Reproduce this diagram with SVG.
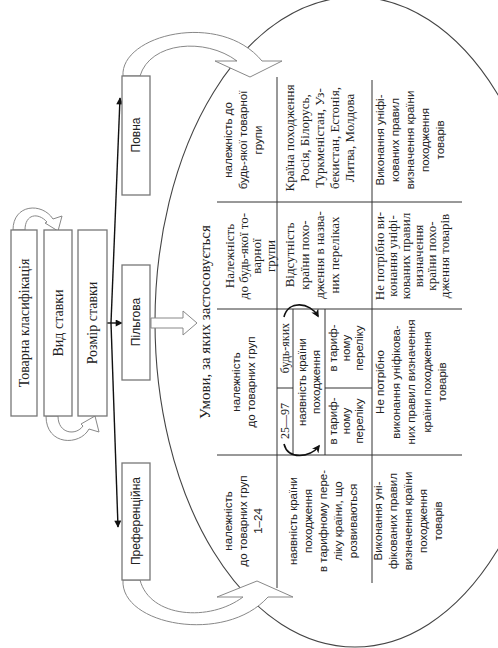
<svg xmlns="http://www.w3.org/2000/svg" width="498" height="648" viewBox="0 0 498 648">
<style>
.bg{fill:#fff}
.box{fill:#fff;stroke:#777;stroke-width:1.3}
.hollow{fill:#fff;stroke:#888;stroke-width:1}
.ell{fill:none;stroke:#444;stroke-width:1.1}
.grid{stroke:#333;stroke-width:1;fill:none}
.blk{stroke:#111;stroke-width:1.4;fill:none}
.hook{stroke:#111;stroke-width:1.6;fill:none}
text{fill:#222}
.serif{font-family:"Liberation Serif","Times New Roman",serif;font-size:13px}
.sans{font-family:"Liberation Sans",Arial,sans-serif;font-size:11.5px}
.box-t{font-family:"Liberation Serif","Times New Roman",serif;font-size:14px}
.type-t{font-family:"Liberation Sans",Arial,sans-serif;font-size:12px}
.head{font-family:"Liberation Serif","Times New Roman",serif;font-size:15px}
</style>
<defs>
<marker id="ah" viewBox="0 0 10 10" refX="9" refY="5" markerWidth="9" markerHeight="7" markerUnits="userSpaceOnUse" orient="auto">
<path d="M0 0 L10 5 L0 10 Z" fill="#111"/>
</marker>
<marker id="ahs" viewBox="0 0 10 10" refX="8" refY="5" markerWidth="8" markerHeight="8" markerUnits="userSpaceOnUse" orient="auto">
<path d="M0 0 L10 5 L0 10 L3 5 Z" fill="#111"/>
</marker>
</defs>
<rect class="bg" x="0" y="0" width="498" height="648"/>

<g id="conditions">
<ellipse class="ell" cx="355" cy="322" rx="200" ry="325"/>
<text class="head" transform="translate(0,322) rotate(-90)" text-anchor="middle"><tspan x="0" y="210">Умови, за яких застосовується</tspan></text>
<g class="grid">
<line x1="277" y1="77" x2="277" y2="588"/>
<line x1="372" y1="80" x2="372" y2="583"/>
<line x1="217" y1="202" x2="462" y2="202"/>
<line x1="217" y1="309" x2="462" y2="309"/>
<line x1="217" y1="455" x2="462" y2="455"/>
<line x1="293" y1="309" x2="293" y2="455"/>
<line x1="277" y1="388" x2="293" y2="388"/>
<line x1="325" y1="309" x2="325" y2="455"/>
<line x1="325" y1="388" x2="372" y2="388"/>
</g>
<!-- row 1 -->
<text class="sans" transform="translate(0,140) rotate(-90)" text-anchor="middle"><tspan x="0" y="232">належність до</tspan><tspan x="0" y="247">будь-якої товарної</tspan><tspan x="0" y="262">групи</tspan></text>
<text class="serif" transform="translate(0,256) rotate(-90)" text-anchor="middle"><tspan x="0" y="234">Належність</tspan><tspan x="0" y="247.5">до будь-якої то-</tspan><tspan x="0" y="261">варної</tspan><tspan x="0" y="274.5">групи</tspan></text>
<text class="sans" transform="translate(0,382) rotate(-90)" text-anchor="middle"><tspan x="0" y="240">належність</tspan><tspan x="0" y="255">до товарних груп</tspan></text>
<text class="sans" transform="translate(0,521) rotate(-90)" text-anchor="middle"><tspan x="0" y="232">належність</tspan><tspan x="0" y="247">до товарних груп</tspan><tspan x="0" y="262">1–24</tspan></text>
<!-- row 2 -->
<text class="serif" transform="translate(0,138) rotate(-90)" text-anchor="middle"><tspan x="0" y="294">Країна походження</tspan><tspan x="0" y="309">Росія, Білорусь,</tspan><tspan x="0" y="324">Туркменістан, Уз-</tspan><tspan x="0" y="339">бекистан, Естонія,</tspan><tspan x="0" y="354">Литва, Молдова</tspan></text>
<text class="serif" transform="translate(0,255) rotate(-90)" text-anchor="middle"><tspan x="0" y="294">Відсутність</tspan><tspan x="0" y="309">країни похо-</tspan><tspan x="0" y="324">дження в назва-</tspan><tspan x="0" y="339">них переліках</tspan></text>
<text class="serif" transform="translate(0,348) rotate(-90)" text-anchor="middle" style="font-size:12px"><tspan x="0" y="289">будь-яких</tspan></text>
<text class="serif" transform="translate(0,421) rotate(-90)" text-anchor="middle" style="font-size:12px"><tspan x="0" y="289">25—97</tspan></text>
<text class="sans" transform="translate(0,382) rotate(-90)" text-anchor="middle"><tspan x="0" y="306">наявність країни</tspan><tspan x="0" y="320">походження</tspan></text>
<text class="sans" transform="translate(0,348) rotate(-90)" text-anchor="middle"><tspan x="0" y="337">в тариф-</tspan><tspan x="0" y="350">ному</tspan><tspan x="0" y="363">переліку</tspan></text>
<text class="sans" transform="translate(0,421) rotate(-90)" text-anchor="middle"><tspan x="0" y="337">в тариф-</tspan><tspan x="0" y="350">ному</tspan><tspan x="0" y="363">переліку</tspan></text>
<text class="sans" transform="translate(0,521) rotate(-90)" text-anchor="middle"><tspan x="0" y="297">наявність країни</tspan><tspan x="0" y="312">походження</tspan><tspan x="0" y="327">в тарифному пере-</tspan><tspan x="0" y="342">ліку країни, що</tspan><tspan x="0" y="357">розвиваються</tspan></text>
<!-- row 3 -->
<text class="sans" transform="translate(0,140) rotate(-90)" text-anchor="middle"><tspan x="0" y="384">Виконання уніфі-</tspan><tspan x="0" y="399">кованих правил</tspan><tspan x="0" y="414">визначення країни</tspan><tspan x="0" y="429">походження</tspan><tspan x="0" y="444">товарів</tspan></text>
<text class="serif" transform="translate(0,256) rotate(-90)" text-anchor="middle"><tspan x="0" y="384">Не потрібно ви-</tspan><tspan x="0" y="397">конання уніфі-</tspan><tspan x="0" y="410">кованих правил</tspan><tspan x="0" y="423">визначення</tspan><tspan x="0" y="436">країни похо-</tspan><tspan x="0" y="449">дження товарів</tspan></text>
<text class="sans" transform="translate(0,382) rotate(-90)" text-anchor="middle"><tspan x="0" y="384">Не потрібно</tspan><tspan x="0" y="399.5">виконання уніфікова-</tspan><tspan x="0" y="415">них правил визначення</tspan><tspan x="0" y="430.5">країни походження</tspan><tspan x="0" y="446">товарів</tspan></text>
<text class="sans" transform="translate(0,521) rotate(-90)" text-anchor="middle"><tspan x="0" y="382">Виконання уні-</tspan><tspan x="0" y="397">фікованих правил</tspan><tspan x="0" y="412">визначення країни</tspan><tspan x="0" y="427">походження</tspan><tspan x="0" y="442">товарів</tspan></text>
</g>

<g id="connectors">
<path class="hollow" d="M123 76 C120 35 220 10 262 61 L282 61 L250 77 L215 61 L237 61 C205 37 150 42 140 76 Z"/>
<path class="hollow" d="M151 318 L183 318 L183 311 L197 323 L183 335 L183 328 L151 328 Z"/>
<path class="hollow" d="M123 580 C120 625 225 645 268 597 L293 597 L257 581 L217 597 L243 597 C210 622 150 618 140 580 Z"/>
<path class="hollow" d="M13 230 C13 204 42 202 53 219 L62 216 L58 231 L45 223 L47 222 C38 212 25 214 25 230 Z"/>
<path class="hollow" d="M46 416 C46 446 80 446 89 429 L99 432 L95 416 L81 424 L83 426 C76 436 58 434 58 416 Z"/>
<path class="blk" d="M111 323 L120 98" marker-end="url(#ah)"/>
<path class="blk" d="M111 323 L118 527" marker-end="url(#ah)"/>
<path class="blk" d="M107 323 L122 323" marker-end="url(#ah)"/>
<path class="hook" d="M284 317 C288 300 310 302 318 316" marker-end="url(#ahs)"/>
<path class="hook" d="M284 444 C288 460 310 458 319 446" marker-end="url(#ahs)"/>
</g>

<g id="tovarna">
<rect class="box" x="11" y="230" width="26" height="186"/>
<text class="box-t" transform="translate(0,323) rotate(-90)" text-anchor="middle"><tspan x="0" y="29">Товарна класифікація</tspan></text>
</g>
<g id="vyd">
<rect class="box" x="44" y="230" width="28" height="186"/>
<text class="box-t" transform="translate(0,323) rotate(-90)" text-anchor="middle"><tspan x="0" y="63">Вид ставки</tspan></text>
</g>
<g id="rozmir">
<rect class="box" x="78" y="230" width="29" height="186"/>
<text class="box-t" transform="translate(0,323) rotate(-90)" text-anchor="middle"><tspan x="0" y="97">Розмір ставки</tspan></text>
</g>
<g id="povna">
<rect class="box" x="122" y="76" width="28" height="119"/>
<text class="type-t" transform="translate(0,135) rotate(-90)" text-anchor="middle"><tspan x="0" y="140">Повна</tspan></text>
</g>
<g id="pilgova">
<rect class="box" x="122" y="265" width="28" height="115"/>
<text class="type-t" transform="translate(0,322) rotate(-90)" text-anchor="middle"><tspan x="0" y="140">Пільгова</tspan></text>
</g>
<g id="preferentsiyna">
<rect class="box" x="122" y="463" width="28" height="117"/>
<text class="type-t" transform="translate(0,521) rotate(-90)" text-anchor="middle"><tspan x="0" y="140">Преференційна</tspan></text>
</g>
</svg>
